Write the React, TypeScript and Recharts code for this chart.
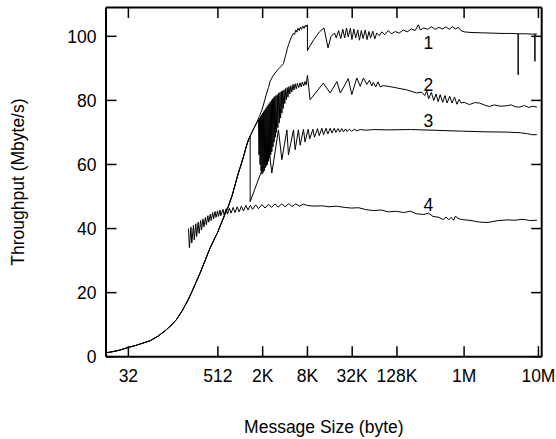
import { LineChart, Line, XAxis, YAxis, ReferenceDot } from "recharts";

// message sizes in bytes, throughput in Mbyte/s
const xTicks = [32, 512, 2048, 8192, 32768, 131072, 1048576, 10485760];
const xTickLabels = ["32", "512", "2K", "8K", "32K", "128K", "1M", "10M"];
const yTicks = [0, 20, 40, 60, 80, 100];

// small-message part, shared by curves 1-3
const rampUp: [number, number][] = [
  [16, 1.2], [20, 1.6], [24, 2.0], [32, 2.9], [40, 3.5], [48, 4.1], [63, 5.0], [80, 6.4],
  [100, 8.1], [123, 10], [142, 11.6], [170, 14.4], [200, 17.4], [226, 20], [260, 23.2], [300, 26.5],
  [344, 30], [400, 33.8], [460, 36.8], [512, 39], [558, 41.2], [630, 44.2], [710, 47], [800, 50.5],
  [880, 54], [956, 57], [1050, 60], [1150, 63], [1240, 65.8], [1320, 67.7],
];

const tail1: [number, number][] = [
  [1500, 70.5], [1700, 73], [1850, 75], [2000, 77], [2150, 79.5], [2300, 82], [2450, 84], [2585, 86],
  [2800, 87.5], [3000, 88.5], [3250, 89.5], [3500, 90.3], [3750, 91], [3900, 91.5], [4050, 93],
  [4200, 94.3], [4400, 96.2], [4560, 97.4], [4800, 98.8], [5050, 100], [5330, 101], [5500, 100.6],
  [5700, 102], [5900, 101.3], [6100, 102.5], [6350, 101.8], [6600, 102.9], [6850, 102.2], [7100, 103.2],
  [7400, 102.5], [7700, 103.5], [7950, 102.9], [8192, 103.6], [8192, 95.5], [8600, 96.5], [10000, 99],
  [12000, 101.5], [13700, 102.6], [15500, 96.4], [17000, 100], [19000, 101], [20000, 99.5],
  [21500, 101.8], [23000, 99.3], [24500, 102.2], [26000, 99.5], [27500, 102.6], [29000, 99.8],
  [31000, 102.5], [32500, 99], [34500, 102.3], [36500, 99.5], [39000, 102], [41000, 98.8],
  [43500, 101.8], [46000, 99.3], [49000, 102], [52000, 99], [55000, 101.5], [58000, 99.5],
  [62000, 101.6], [66000, 99.2], [70000, 101], [76000, 100.2], [82000, 101.4], [90000, 100.5],
  [100000, 101.8], [110000, 100.8], [125000, 101.5], [140000, 101], [160000, 102], [180000, 101.4],
  [205000, 102.3], [230000, 101.8], [255000, 103.6], [270000, 102], [300000, 102.6], [340000, 102.2],
  [380000, 103], [430000, 102.2], [480000, 102.8], [540000, 102.3], [600000, 103], [660000, 102.2],
  [730000, 103], [800000, 102.3], [880000, 102.8], [950000, 101.8], [1050000, 101.4], [1300000, 101.2],
  [1800000, 101.1], [2500000, 101], [3500000, 100.9], [4500000, 100.9], [5600000, 100.8], [5600000, 88],
  [5600000, 100.8], [7000000, 100.8], [8500000, 100.7], [9400000, 100.7], [9400000, 92.2],
  [9400000, 100.7], [10000000, 100.7],
];

const tail2: [number, number][] = [
  [1500, 70.5], [1700, 73], [1800, 74], [1830, 63], [1860, 74.5], [1890, 60], [1920, 75], [1950, 58],
  [1980, 75.5], [2010, 57], [2050, 76], [2080, 57.5], [2110, 76.5], [2150, 58], [2190, 77], [2220, 59],
  [2260, 77.5], [2300, 59.5], [2340, 78], [2380, 60], [2420, 78.5], [2460, 61], [2500, 79], [2540, 62],
  [2590, 79.5], [2630, 63], [2680, 80], [2720, 64], [2770, 80.5], [2820, 65.5], [2870, 80.8],
  [2920, 67], [2980, 81.2], [3030, 68.5], [3090, 81.5], [3150, 70], [3220, 81.8], [3280, 71.5],
  [3350, 82.2], [3420, 73], [3500, 82.5], [3570, 74.5], [3650, 82.8], [3720, 76], [3800, 83],
  [3880, 77.5], [3970, 83.3], [4060, 79], [4160, 83.7], [4260, 80.2], [4380, 84], [4480, 81],
  [4620, 84.3], [4750, 82], [4900, 84.6], [5050, 82.6], [5250, 85], [5400, 83.2], [5600, 85.2],
  [5800, 83.6], [6000, 85.3], [6250, 84], [6500, 85.5], [6750, 84.2], [7000, 85.7], [7300, 84.5],
  [7600, 85.9], [7900, 84.8], [8192, 87.8], [8900, 80.2], [13400, 85.4], [16600, 82.3], [20400, 85.9],
  [22700, 82.3], [29000, 86.8], [32400, 81.8], [37800, 87], [42000, 84.4], [46400, 87], [51600, 85],
  [56000, 86.3], [60000, 84.5], [63000, 85.6], [68000, 84.2], [73000, 85.8], [78000, 84.2],
  [85000, 84.6], [100000, 84.4], [130000, 83.9], [177000, 83.3], [242000, 82.3], [280000, 82.6],
  [310000, 81.5], [330000, 83], [350000, 80.5], [380000, 82.5], [410000, 80], [440000, 82],
  [470000, 79.6], [500000, 81.8], [540000, 79.4], [580000, 81.5], [620000, 79.2], [670000, 81.3],
  [720000, 79.2], [780000, 81], [840000, 78.8], [900000, 80.3], [955000, 79.2], [1050000, 79.4],
  [1240000, 78.7], [1450000, 79.3], [1680000, 79.2], [2000000, 78.5], [2300000, 78.1], [2700000, 78.6],
  [3200000, 78.2], [3900000, 78.3], [4500000, 78.6], [5200000, 78], [5900000, 77.9], [6800000, 78.4],
  [7800000, 77.8], [8800000, 78.2], [10000000, 77.9],
];

const tail3: [number, number][] = [
  [1390, 69], [1390, 48.4], [2340, 62.5], [2500, 64.5], [2720, 57.3], [3340, 70.8], [3710, 61.5],
  [4340, 70.8], [4550, 63], [5320, 70.8], [5600, 64.6], [6200, 70.8], [6540, 66], [7250, 71],
  [7600, 67], [8380, 71], [8800, 68], [9700, 71], [10200, 68.5], [11200, 71.2], [11800, 69],
  [12800, 71.3], [13500, 69.3], [14600, 71.3], [15400, 69.5], [16600, 71.3], [17500, 69.8],
  [18800, 71.3], [19800, 70], [21200, 71.2], [22300, 70.1], [23800, 71.2], [25000, 70.2],
  [26700, 71.1], [28000, 70.3], [30000, 71], [32000, 70.4], [35000, 71], [38000, 70.5], [42000, 70.9],
  [50000, 70.7], [64000, 70.9], [100000, 70.8], [200000, 70.9], [400000, 70.7], [700000, 70.5],
  [1000000, 70.4], [2000000, 70.2], [4000000, 70.1], [6000000, 69.9], [7500000, 69.6],
  [8500000, 69.3], [10000000, 69.3],
];

const curve4: [number, number][] = [
  [206, 40], [212, 34], [222, 40.5], [228, 35.5], [240, 41], [246, 36.5], [258, 41.5], [265, 37.5],
  [278, 42], [286, 38.5], [300, 42.5], [308, 39.5], [322, 43], [332, 40.5], [348, 43.5], [358, 41.2],
  [375, 44], [386, 42], [404, 44.5], [416, 42.5], [436, 45], [448, 43], [470, 45.3], [483, 43.5],
  [507, 45.5], [520, 43.8], [548, 45.8], [560, 44], [600, 46], [620, 44.2], [660, 46.2], [690, 44.5],
  [730, 46.4], [770, 44.8], [820, 46.6], [870, 45], [930, 46.8], [990, 45.2], [1060, 47], [1130, 45.5],
  [1220, 47.2], [1300, 45.8], [1400, 47.3], [1500, 46], [1650, 47.4], [1800, 46.2], [2000, 47.5],
  [2200, 46.4], [2450, 47.6], [2700, 46.6], [3000, 47.7], [3300, 46.7], [3700, 47.7], [4100, 46.8],
  [4600, 47.8], [5100, 46.9], [5700, 47.7], [6400, 47], [7200, 47.6], [8192, 47.2], [10000, 47],
  [13000, 47.1], [16000, 46.8], [20000, 47], [26000, 46.6], [32000, 46.4], [40000, 46.5],
  [50000, 45.9], [64000, 45.6], [80000, 45.8], [100000, 45.2], [128000, 45.4], [160000, 45],
  [200000, 45.4], [240000, 44.6], [300000, 44.4], [350000, 44.8], [400000, 43.8], [480000, 43.5],
  [550000, 42.8], [600000, 43.6], [650000, 42.7], [700000, 43.5], [760000, 42.6], [800000, 43.8],
  [900000, 43], [1000000, 42.8], [1300000, 42.5], [1700000, 42], [2200000, 41.9], [3000000, 42.5],
  [4000000, 42.7], [5000000, 42.6], [6500000, 42.9], [8000000, 42.5], [10000000, 42.6],
];

const curveNames = ["1", "2", "3", "4"];
const curveLabelSize = [347000, 347000, 347000, 347000];
const curveLabelValue = [97.9, 84.9, 73.7, 47.4];

const toPoints = (pairs: [number, number][]) => pairs.map(([x, y]) => ({ x, y }));

const series = [
  toPoints([...rampUp, ...tail1]),
  toPoints([...rampUp, ...tail2]),
  toPoints([...rampUp, ...tail3]),
  toPoints(curve4),
];

const FONT = "'Liberation Sans', Arial, Helvetica, sans-serif";
const FS = 17.5;
const TICK = 10.5;
const X_DOMAIN: [number, number] = [16, 11600000];
const Y_DOMAIN: [number, number] = [0, 109];

const BottomTick = (props: any) => {
  const { x, y, payload } = props;
  return (
    <g>
      <line x1={x} x2={x} y1={y} y2={y - TICK} stroke="#000" strokeWidth={1.5} />
      <text x={x} y={y + 25.5} textAnchor="middle" fontFamily={FONT} fontSize={FS} fill="#000">
        {xTickLabels[xTicks.indexOf(payload.value)]}
      </text>
    </g>
  );
};

const TopTick = (props: any) => {
  const { x, y } = props;
  return <line x1={x} x2={x} y1={y} y2={y + TICK} stroke="#000" strokeWidth={1.5} />;
};

const LeftTick = (props: any) => {
  const { x, y, payload } = props;
  return (
    <g>
      <line x1={x} x2={x + TICK} y1={y} y2={y} stroke="#000" strokeWidth={1.5} />
      <text x={x - 9.5} y={y} dy="0.36em" textAnchor="end" fontFamily={FONT} fontSize={FS} fill="#000">
        {payload.value}
      </text>
    </g>
  );
};

const RightTick = (props: any) => {
  const { x, y } = props;
  return <line x1={x} x2={x - TICK} y1={y} y2={y} stroke="#000" strokeWidth={1.5} />;
};

const border = { stroke: "#000", strokeWidth: 2 };

export default function App() {
  return (
    <div style={{ position: "absolute", left: 0, top: 0, background: "#fff" }}>
      <LineChart width={556} height={439} margin={{ top: 6.5, right: 13.3, bottom: 0, left: 0 }}>
        <XAxis
          dataKey="x"
          type="number"
          scale="log"
          domain={X_DOMAIN}
          allowDataOverflow
          ticks={xTicks}
          interval={0}
          tickSize={0}
          tickMargin={0}
          tickLine={false}
          axisLine={border}
          tick={<BottomTick />}
          height={82.3}
          label={{
            value: "Message Size (byte)",
            position: "insideBottom",
            offset: 6,
            fontFamily: FONT,
            fontSize: FS,
            fill: "#000",
          }}
        />
        <XAxis
          xAxisId="top"
          orientation="top"
          dataKey="x"
          type="number"
          scale="log"
          domain={X_DOMAIN}
          allowDataOverflow
          ticks={xTicks}
          interval={0}
          tickSize={0}
          tickMargin={0}
          tickLine={false}
          axisLine={border}
          tick={<TopTick />}
          height={1}
        />
        <YAxis
          type="number"
          domain={Y_DOMAIN}
          allowDataOverflow
          ticks={yTicks}
          interval={0}
          tickSize={0}
          tickMargin={0}
          tickLine={false}
          axisLine={border}
          tick={<LeftTick />}
          width={106}
          label={{
            value: "Throughput (Mbyte/s)",
            angle: -90,
            position: "insideLeft",
            offset: 18,
            textAnchor: "middle",
            fontFamily: FONT,
            fontSize: FS,
            fill: "#000",
          }}
        />
        <YAxis
          yAxisId="right"
          orientation="right"
          type="number"
          domain={Y_DOMAIN}
          allowDataOverflow
          ticks={yTicks}
          interval={0}
          tickSize={0}
          tickMargin={0}
          tickLine={false}
          axisLine={border}
          tick={<RightTick />}
          width={1}
        />
        {series.map((pts, i) => (
          <Line
            key={i}
            data={pts}
            dataKey="y"
            type="linear"
            stroke="#000"
            strokeWidth={1}
            dot={false}
            activeDot={false}
            isAnimationActive={false}
          />
        ))}
        {curveNames.map((name, i) => (
          <ReferenceDot
            key={name}
            x={curveLabelSize[i]}
            y={curveLabelValue[i]}
            r={0}
            fill="none"
            stroke="none"
            label={{ value: name, position: "center", fontFamily: FONT, fontSize: FS, fill: "#000" }}
          />
        ))}
      </LineChart>
    </div>
  );
}
